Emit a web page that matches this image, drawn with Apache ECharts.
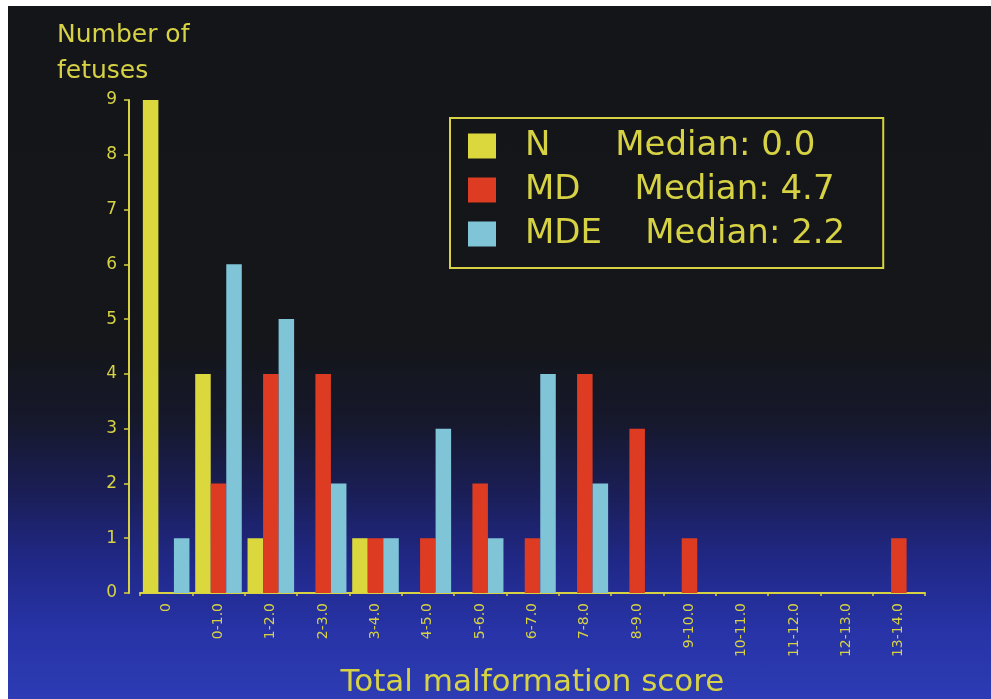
<!DOCTYPE html>
<html>
<head>
<meta charset="utf-8">
<script src="https://cdn.jsdelivr.net/npm/echarts@6/dist/echarts.min.js"></script>
<style>
  html, body { margin: 0; padding: 0; background: #ffffff; width: 991px; height: 699px; overflow: hidden; }
  #chart {
    position: absolute; left: 8px; top: 6px; width: 983px; height: 693px;
    background: linear-gradient(to bottom, #131519 0%, #141619 48%, #16182c 60%, #1a1e55 70%, #202886 80%, #2733a6 90%, #2d3cb4 100%);
  }
</style>
</head>
<body>
<div id="chart"></div>
<script>
const categories = ['0', '0-1.0', '1-2.0', '2-3.0', '3-4.0', '4-5.0', '5-6.0', '6-7.0', '7-8.0', '8-9.0', '9-10.0', '10-11.0', '11-12.0', '12-13.0', '13-14.0'];
const seriesNames = ['N', 'MD', 'MDE'];
const medians = ['0.0', '4.7', '2.2'];
const valuesN   = [9, 4, 1, 0, 1, 0, 0, 0, 0, 0, 0, 0, 0, 0, 0];
const valuesMD  = [0, 2, 4, 4, 1, 1, 2, 1, 4, 3, 1, 0, 0, 0, 1];
const valuesMDE = [1, 6, 5, 2, 1, 3, 1, 4, 2, 0, 0, 0, 0, 0, 0];
const yTicks = [0, 1, 2, 3, 4, 5, 6, 7, 8, 9];

const TXT = '#d6d244';
const FONT = '"DejaVu Sans", sans-serif';
const colors = ['#dbd83e', '#dd3c22', '#80c4d8'];
const legendSpacing = { 'N': '      ', 'MD': '     ', 'MDE': '    ' };

const chart = echarts.init(document.getElementById('chart'), null, { renderer: 'canvas' });
const seriesData = [valuesN, valuesMD, valuesMDE];

chart.setOption({
  backgroundColor: 'transparent',
  animation: false,
  textStyle: { fontFamily: FONT },
  title: {
    text: 'Number of\nfetuses',
    left: 44,
    top: 6,
    textStyle: { color: TXT, fontFamily: FONT, fontSize: 25, fontWeight: 'normal', lineHeight: 36 }
  },
  legend: {
    data: seriesNames,
    orient: 'vertical',
    left: 442,
    top: 112,
    icon: 'rect',
    itemWidth: 28,
    itemHeight: 25,
    itemGap: 4,
    padding: [8, 38, 14, 18],
    borderColor: TXT,
    borderWidth: 2,
    selectedMode: false,
    formatter: function (name) {
      const i = seriesNames.indexOf(name);
      return name + legendSpacing[name] + 'Median: ' + medians[i];
    },
    textStyle: { color: TXT, fontFamily: FONT, fontSize: 34, lineHeight: 40, padding: [0, 0, 0, 24] }
  },
  grid: { left: 132, right: 66, top: 94, bottom: 106, containLabel: false, outerBoundsMode: 'none' },
  xAxis: {
    type: 'category',
    data: categories,
    name: 'Total malformation score',
    nameLocation: 'middle',
    nameGap: 74,
    nameTextStyle: { color: TXT, fontFamily: FONT, fontSize: 31 },
    axisLine: { lineStyle: { color: TXT, width: 2 } },
    axisTick: { show: true, length: 3, lineStyle: { color: TXT, width: 1.5 } },
    axisLabel: { color: TXT, fontFamily: FONT, fontSize: 14, rotate: 90, margin: 10, interval: 0 },
    splitLine: { show: false }
  },
  yAxis: {
    type: 'value',
    min: yTicks[0],
    max: yTicks[yTicks.length - 1],
    interval: 1,
    offset: 11,
    axisLine: { show: true, lineStyle: { color: TXT, width: 2 } },
    axisTick: { show: true, length: 5, lineStyle: { color: TXT, width: 1.5 } },
    axisLabel: { color: TXT, fontFamily: FONT, fontSize: 17, margin: 12 },
    splitLine: { show: false }
  },
  series: seriesNames.map(function (name, i) {
    return {
      name: name,
      type: 'bar',
      data: seriesData[i],
      barGap: '0%',
      barCategoryGap: '11%',
      itemStyle: { color: colors[i] }
    };
  })
});
</script>
</body>
</html>
